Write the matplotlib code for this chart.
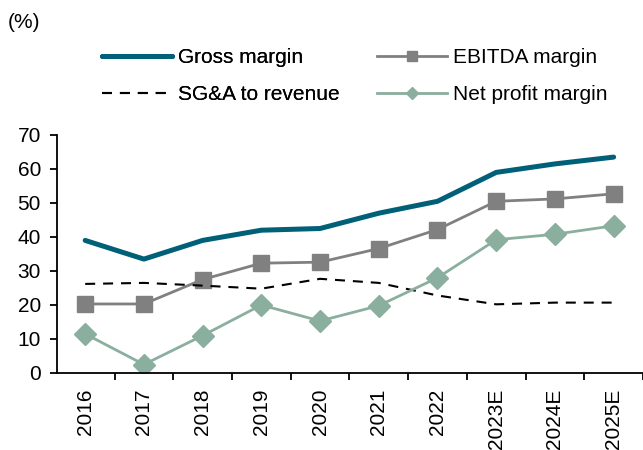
import matplotlib
matplotlib.use("Agg")
import matplotlib.pyplot as plt
from matplotlib.ticker import FixedLocator

plt.rcParams['font.family'] = ['Liberation Sans', 'DejaVu Sans']

years = ["2016", "2017", "2018", "2019", "2020", "2021", "2022", "2023E", "2024E", "2025E"]
gross_margin = [39.0, 33.5, 39.0, 42.0, 42.5, 47.0, 50.5, 59.0, 61.5, 63.5]
ebitda_margin = [20.3, 20.3, 27.5, 32.3, 32.6, 36.6, 42.2, 50.5, 51.2, 52.7]
sga_to_revenue = [26.2, 26.5, 25.7, 24.8, 27.7, 26.5, 22.8, 20.2, 20.7, 20.7]
net_profit_margin = [11.5, 2.5, 11.0, 20.0, 15.3, 19.8, 28.0, 39.2, 40.8, 43.3]

FS = 15
W, H = 643, 450
fig = plt.figure(figsize=(W / 100, H / 100), dpi=100)
ax = fig.add_axes([57 / W, (H - 373) / H, 586 / W, 238 / H])
x = list(range(len(years)))

l1, = ax.plot(x, gross_margin, color='#006078', lw=3.6, solid_capstyle='round', label='Gross margin')
l2, = ax.plot(x, ebitda_margin, color='#808080', lw=2, marker='s', markersize=12, label='EBITDA margin')
l3, = ax.plot(x, sga_to_revenue, color='black', lw=1.5, ls=(0, (4.8, 3.8)), label='SG&A to revenue')
l4, = ax.plot(x, net_profit_margin, color='#8aaf9e', lw=2, marker='D', markersize=11, label='Net profit margin')

ax.set_xlim(-0.48, 9.5)
ax.set_ylim(0, 70)
ax.set_yticks(range(0, 71, 10))
ax.set_xticks(x)
ax.set_xticklabels(years, rotation=90, fontsize=FS)
ax.tick_params(axis='x', length=0, pad=11)
ax.xaxis.set_minor_locator(FixedLocator([i + 0.5 for i in range(0, 10)]))
ax.tick_params(axis='x', which='minor', length=5, width=1.3, direction='out')
ax.tick_params(axis='y', labelsize=FS, length=5, width=1.3, direction='out', pad=6.5)
for s in ['top', 'right']:
    ax.spines[s].set_visible(False)
for s in ['left', 'bottom']:
    ax.spines[s].set_linewidth(1.3)

fig.text(8 / W, 1 - 23 / H, "(%)", fontsize=FS, va='center', ha='left')

common = dict(loc='center left', frameon=False, fontsize=FS, handlelength=3.35, labelspacing=0.85,
              handletextpad=0.3, borderaxespad=0, borderpad=0)
leg1 = fig.legend(handles=[l1, l3], bbox_to_anchor=(102 / W, 1 - 76 / H), **common)
leg2 = fig.legend(handles=[l2, l4], bbox_to_anchor=(377 / W, 1 - 76 / H), markerscale=0.6, **common)
fig.add_artist(leg1)

fig.savefig("out.png", dpi=100)
